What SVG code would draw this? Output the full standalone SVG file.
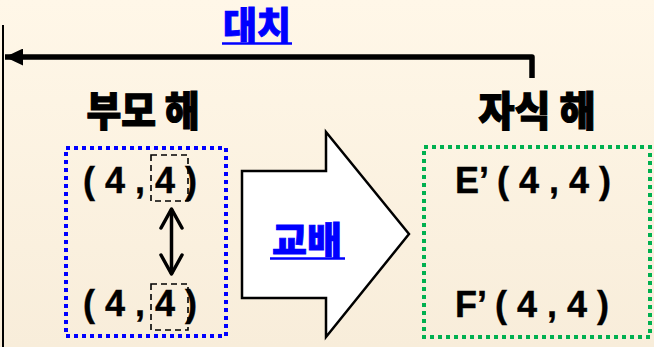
<svg xmlns="http://www.w3.org/2000/svg" width="654" height="347" viewBox="0 0 654 347">
  <defs>
    <linearGradient id="bg" x1="0" y1="0" x2="0" y2="1">
      <stop offset="0" stop-color="#FFF7E8"/>
      <stop offset="1" stop-color="#F8EDDA"/>
    </linearGradient>
    <!-- solid triangular head, tip at refX -->
    <marker id="head-fill" markerUnits="userSpaceOnUse" markerWidth="19" markerHeight="17" refX="18" refY="8.5" orient="auto" viewBox="0 0 19 17">
      <path d="M0,0 L18,8.5 L0,17 Z" fill="#000"/>
    </marker>
    <!-- open chevron head, tip at refX -->
    <marker id="chevron" markerUnits="userSpaceOnUse" markerWidth="26" markerHeight="26" refX="22" refY="12" orient="auto-start-reverse" viewBox="0 0 26 24">
      <path d="M3,1.5 L22,12 L3,22.5" fill="none" stroke="#000" stroke-width="3.5" stroke-linecap="round" stroke-linejoin="round"/>
    </marker>
  </defs>
  <style>
    .lat { font-family: "Liberation Sans", "Noto Sans CJK KR", sans-serif; font-weight: bold; font-size: 36px; fill: #000; stroke: #000; stroke-width: 0.4; }
    .kor { font-family: "Noto Sans CJK KR", "Liberation Sans", sans-serif; font-weight: 900; font-size: 41px; fill: #000; stroke: #000; stroke-width: 1.2; }
    .link { font-family: "Noto Sans CJK KR", "Liberation Sans", sans-serif; font-weight: 900; font-size: 38px; fill: #0000FF; stroke: #0000FF; stroke-width: 0.8; }
    .uline { stroke: #0000FF; stroke-width: 2.5; }
    .pick { fill: none; stroke: #000; stroke-width: 1.6; stroke-dasharray: 6 4; }
  </style>

  <rect width="654" height="347" fill="url(#bg)"/>

  <!-- parent solutions -->
  <g id="parent">
    <text class="kor" x="143" y="126" text-anchor="middle" textLength="113" lengthAdjust="spacingAndGlyphs">부모 해</text>
    <rect x="66" y="148" width="160" height="188" fill="none" stroke="#0000FF" stroke-width="4" stroke-dasharray="4 4"/>
    <text class="lat" x="83" y="193">( 4 , 4 )</text>
    <text class="lat" x="83" y="316">( 4 , 4 )</text>
    <rect class="pick" x="151" y="155" width="37" height="46"/>
    <rect class="pick" x="151" y="284" width="37" height="46"/>
  </g>

  <!-- crossover block arrow -->
  <g id="crossover">
    <path d="M242,171 L326,171 L326,132 L409,234 L326,337 L326,298 L242,298 Z" fill="#FFF" stroke="#000" stroke-width="2.5" stroke-linejoin="miter"/>
    <text class="link" x="307" y="254" text-anchor="middle" textLength="70" lengthAdjust="spacingAndGlyphs">교배</text>
    <line class="uline" x1="270" y1="258.5" x2="345" y2="258.5"/>
  </g>

  <!-- child solutions -->
  <g id="child">
    <text class="kor" x="537" y="126" text-anchor="middle" textLength="117" lengthAdjust="spacingAndGlyphs">자식 해</text>
    <rect x="424" y="147" width="226" height="190" fill="none" stroke="#00B050" stroke-width="4" stroke-dasharray="4 4"/>
    <text class="lat" x="455" y="193">E’ ( 4 , 4 )</text>
    <text class="lat" x="455" y="317">F’ ( 4 , 4 )</text>
  </g>

  <!-- replacement label -->
  <g id="replace-label">
    <text class="link" x="257" y="39" text-anchor="middle" textLength="68" lengthAdjust="spacingAndGlyphs">대치</text>
    <line class="uline" x1="222" y1="43.5" x2="292" y2="43.5"/>
  </g>

  <g id="connectors">
    <!-- left border of the population -->
    <line x1="3" y1="25" x2="3" y2="347" stroke="#000" stroke-width="2"/>
    <!-- replacement: child back to population -->
    <path d="M532,78 L532,57 L5,57" fill="none" stroke="#000" stroke-width="5.5" stroke-linejoin="round" marker-end="url(#head-fill)"/>
    <!-- swap between parents -->
    <line x1="171.5" y1="209" x2="171.5" y2="274" stroke="#000" stroke-width="3.5" marker-start="url(#chevron)" marker-end="url(#chevron)"/>
  </g>
</svg>
